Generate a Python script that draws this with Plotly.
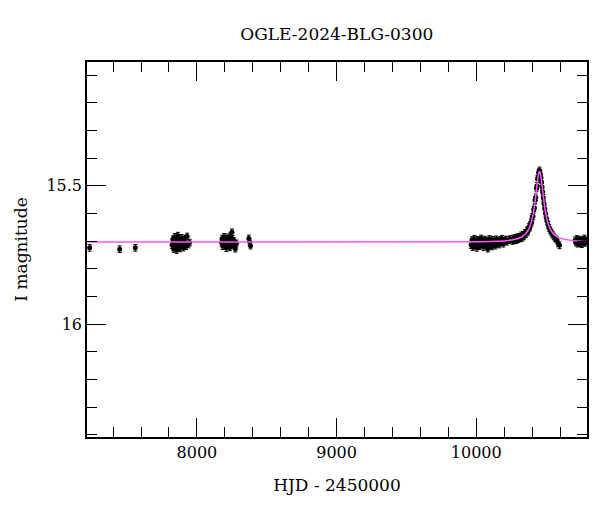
import plotly.graph_objects as go

# ---- data (HJD - 2450000, I magnitude) ----
t_iso = [7232, 7447, 7559]
m_iso = [15.724, 15.729, 15.724]

t_s1 = [7822, 7828, 7833, 7837, 7841, 7846, 7850, 7855, 7859, 7864, 7868, 7873,
        7878, 7883, 7888, 7893, 7898, 7903, 7909, 7915, 7922, 7930, 7938, 7948]
m_s1 = [15.714, 15.693, 15.728, 15.703, 15.684, 15.718, 15.697, 15.732, 15.706, 15.680, 15.713, 15.695,
        15.726, 15.705, 15.688, 15.716, 15.700, 15.723, 15.690, 15.710, 15.718, 15.683, 15.712, 15.705]

t_s2 = [8176, 8181, 8186, 8191, 8196, 8201, 8206, 8211, 8216, 8221, 8226, 8231,
        8236, 8241, 8246, 8251, 8256, 8262, 8268, 8275, 8283]
m_s2 = [15.705, 15.690, 15.718, 15.700, 15.684, 15.712, 15.695, 15.725, 15.703, 15.686, 15.714, 15.697,
        15.722, 15.680, 15.705, 15.668, 15.692, 15.716, 15.700, 15.727, 15.708]

t_s3 = [8372, 8378, 8384]
m_s3 = [15.690, 15.703, 15.716]

t_s4 = [9963, 9969, 9975, 9981, 9987, 9993, 9999, 10005, 10011, 10017, 10023, 10029,
        10035, 10041, 10047, 10053, 10059, 10065, 10071, 10077, 10083, 10089, 10095, 10101,
        10107, 10113, 10119, 10125, 10131, 10137, 10143, 10150, 10157, 10164, 10171, 10178,
        10185, 10193, 10201, 10210, 10220, 10232, 10244]
m_s4 = [15.714, 15.696, 15.722, 15.705, 15.691, 15.716, 15.702, 15.724, 15.695, 15.709, 15.718, 15.700,
        15.690, 15.713, 15.704, 15.722, 15.694, 15.707, 15.715, 15.697, 15.727, 15.705, 15.692, 15.714,
        15.701, 15.719, 15.695, 15.708, 15.703, 15.716, 15.693, 15.706, 15.698, 15.712, 15.696, 15.704,
        15.691, 15.709, 15.699, 15.694, 15.702, 15.696, 15.692]

t_s5 = [10258, 10265, 10272, 10279, 10286, 10293, 10300, 10307, 10314, 10321, 10328, 10335,
        10342, 10349, 10356, 10363, 10370, 10377, 10384, 10390, 10396, 10401, 10406, 10411,
        10416, 10421, 10426, 10431, 10435, 10439, 10443, 10447, 10450, 10453, 10456, 10459,
        10463, 10467, 10471, 10475, 10480, 10485, 10490, 10496, 10502, 10508, 10515, 10522,
        10530, 10538, 10546, 10555, 10565, 10575, 10586, 10596]
m_s5 = [15.699, 15.690, 15.697, 15.688, 15.696, 15.686, 15.693, 15.684, 15.690, 15.679, 15.688, 15.676,
        15.683, 15.670, 15.675, 15.661, 15.666, 15.649, 15.651, 15.632, 15.633, 15.612, 15.610, 15.586,
        15.580, 15.552, 15.541, 15.509, 15.500, 15.475, 15.468, 15.451, 15.453, 15.444, 15.454, 15.459,
        15.470, 15.486, 15.503, 15.521, 15.543, 15.564, 15.582, 15.600, 15.617, 15.629, 15.641, 15.652,
        15.661, 15.668, 15.676, 15.683, 15.690, 15.694, 15.708, 15.715]

t_s6 = [10708, 10714, 10720, 10726, 10732, 10738, 10744, 10750, 10756, 10762, 10768, 10774,
        10780, 10786, 10792]
m_s6 = [15.697, 15.705, 15.692, 15.709, 15.700, 15.694, 15.707, 15.699, 15.711, 15.696, 15.703, 15.690,
        15.706, 15.700, 15.697]

err_iso = 0.012
err_obs = 0.012

# model light curve
t_model = [7200, 10000, 10150, 10200, 10250, 10300, 10330, 10360, 10380, 10400, 10410, 10420,
           10430, 10438, 10444, 10449, 10453, 10457, 10462, 10468, 10476, 10486, 10496, 10506,
           10520, 10540, 10560, 10590, 10630, 10680, 10740, 10800]
m_model = [15.703, 15.702, 15.700, 15.699, 15.696, 15.690, 15.683, 15.669, 15.652, 15.620, 15.595, 15.561,
           15.519, 15.484, 15.462, 15.451, 15.448, 15.451, 15.462, 15.484, 15.519, 15.561, 15.595, 15.620,
           15.644, 15.665, 15.677, 15.687, 15.693, 15.697, 15.700, 15.701]

y_tickvals = [15.5, 16.0]
y_ticktext = ["15.5", "16"]

FONT = "DejaVu Serif"

fig = go.Figure()

def add_obs(t, m, e):
    fig.add_trace(go.Scatter(
        x=t, y=m, mode="markers",
        marker=dict(color="black", size=5),
        error_y=dict(type="constant", value=e, color="black", thickness=1, width=2),
        showlegend=False, hoverinfo="x+y"))

add_obs(t_iso, m_iso, err_iso)
for tt, mm in [(t_s1, m_s1), (t_s2, m_s2), (t_s3, m_s3), (t_s4, m_s4), (t_s5, m_s5), (t_s6, m_s6)]:
    add_obs(tt, mm, err_obs)

fig.add_trace(go.Scatter(x=t_model, y=m_model, mode="lines",
                         line=dict(color="#ff55ff", width=1.5, shape="spline", smoothing=0.6),
                         showlegend=False))

axis_common = dict(
    showline=True, linecolor="black", linewidth=1.5, mirror="ticks",
    ticks="inside", ticklen=19, tickwidth=1, tickcolor="black",
    showgrid=False, zeroline=False, automargin=False,
    tickfont=dict(family=FONT, size=16, color="black"),
)

fig.update_layout(
    width=600, height=512,
    margin=dict(l=79, r=21, t=54, b=83),
    paper_bgcolor="white", plot_bgcolor="white",
    title=dict(text="OGLE-2024-BLG-0300", x=0.548, xanchor="center", y=0.950, yanchor="middle",
               font=dict(family=FONT, size=17, color="black")),
    xaxis=dict(range=[7213, 10793], tick0=0, dtick=1000, tickformat="d",
               minor=dict(dtick=200, ticklen=10, ticks="inside", tickcolor="black", tickwidth=1),
               title=dict(text="HJD - 2450000", font=dict(family=FONT, size=17, color="black"), standoff=18),
               **axis_common),
    yaxis=dict(range=[16.408, 15.052], tickmode="array", tickvals=y_tickvals, ticktext=y_ticktext,
               minor=dict(dtick=0.1, tick0=15.0, ticklen=10, ticks="inside", tickcolor="black", tickwidth=1),
               title=dict(text="I magnitude", font=dict(family=FONT, size=17, color="black"), standoff=14),
               **axis_common),
)

fig.write_html("out.html")
